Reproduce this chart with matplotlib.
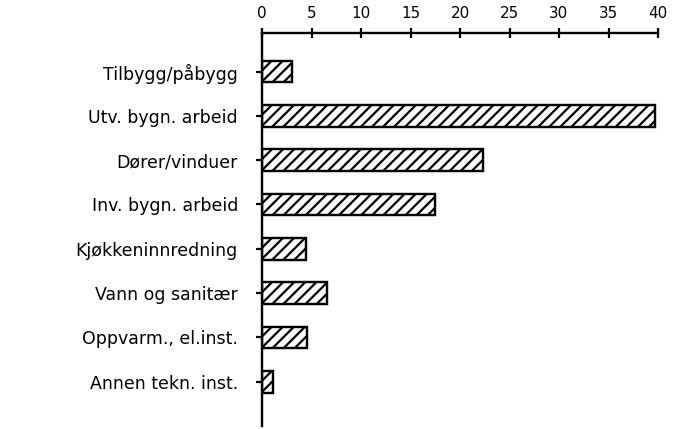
import matplotlib
matplotlib.use("Agg")
import matplotlib.pyplot as plt
import numpy as np

categories = ["Tilbygg/påbygg", "Utv. bygn. arbeid", "Dører/vinduer", "Inv. bygn. arbeid",
              "Kjøkkeninnredning", "Vann og sanitær", "Oppvarm., el.inst.", "Annen tekn. inst."]
values = [3.0, 39.7, 22.3, 17.5, 4.4, 6.6, 4.5, 1.1]
xticks = [0, 5, 10, 15, 20, 25, 30, 35, 40]
xtick_labels = ["0", "5", "10", "15", "20", "25", "30", "35", "40"]

DPI = 133
plt.rcParams['hatch.linewidth'] = 1.2
plt.rcParams['font.family'] = ['DejaVu Sans']

fig = plt.figure(figsize=(683 / DPI, 429 / DPI), dpi=DPI)
W, H = 683, 429
ax = fig.add_axes([262 / W, 1 - 426 / H, (658 - 262) / W, (426 - 33) / H])

y = np.arange(len(categories))
ax.barh(y, values, height=0.49, color="white", edgecolor="black", hatch="////", linewidth=1.3)

ax.set_xlim(0, 40)
ax.set_ylim(8, -0.87)
ax.set_yticks(y)
ax.set_yticklabels(categories, fontsize=9.4)
ax.set_xticks(xticks)
ax.set_xticklabels(xtick_labels, fontsize=8.2)
ax.xaxis.tick_top()
ax.spines['right'].set_visible(False)
ax.spines['bottom'].set_visible(False)
for s in ('left', 'top'):
    ax.spines[s].set_linewidth(1.3)
ax.tick_params(axis='y', direction='out', length=3, width=1.2, pad=10)
ax.tick_params(axis='x', direction='inout', length=5, width=1.2, pad=4)

fig.savefig("out.png", dpi=DPI)
